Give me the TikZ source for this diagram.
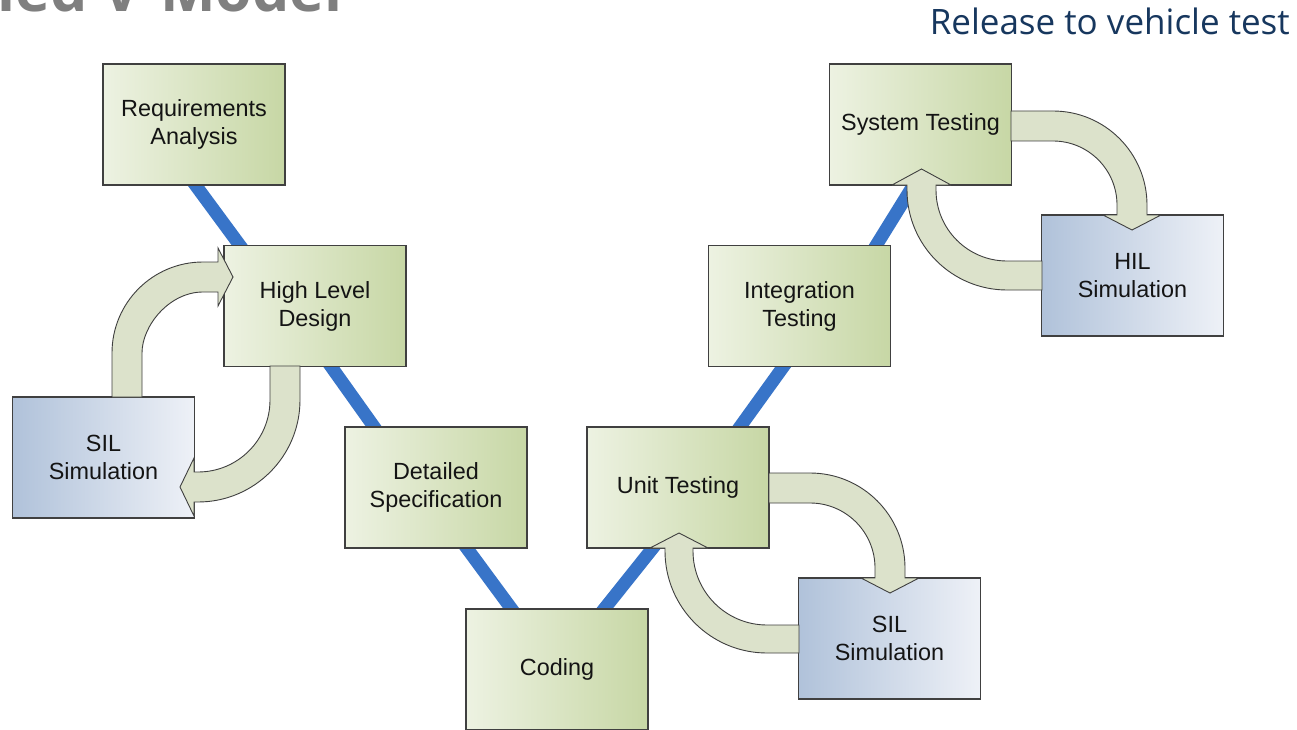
\documentclass[tikz,border=0pt]{standalone}
\usepackage{fontspec}
\setmainfont{Liberation Sans}
\newfontfamily\segoefont{Open Sans}
\usetikzlibrary{calc}
\pgfdeclarelayer{background}
\pgfdeclarelayer{canvas}
\pgfsetlayers{canvas,background,main}
\definecolor{boxedge}{HTML}{404040}
\definecolor{gl}{HTML}{EDF2E2}
\definecolor{gr}{HTML}{C7D7A5}
\definecolor{bl}{HTML}{B0C2DA}
\definecolor{br}{HTML}{EEF1F7}
\definecolor{txt}{HTML}{141414}
\definecolor{vblue}{HTML}{3874C8}
\definecolor{arrfill}{HTML}{DCE2CB}
\definecolor{arredge}{HTML}{3F3F3F}
\definecolor{relblue}{HTML}{17375E}
\definecolor{titlegray}{HTML}{7F7F7F}
\newcommand\bxfont{\fontsize{23.4}{28}\selectfont}
\tikzset{
  greenbox/.style={draw=boxedge, line width=1.2pt, left color=gl, right color=gr,
    minimum width=182pt, minimum height=121pt, inner sep=0pt, align=center,
    font=\bxfont, text=txt},
  bluebox/.style={greenbox, left color=bl, right color=br},
  vline/.style={line width=13pt, draw=vblue, shorten <=-7pt, shorten >=-7pt},
  blockarrow/.style={draw=arredge, line width=0.9pt, fill=arrfill, line join=miter}
}
\begin{document}
\begin{tikzpicture}[x=1pt,y=-1pt]
\useasboundingbox (0,0) rectangle (1297,730);
\begin{pgfonlayer}{canvas}
\fill[white] (0,0) rectangle (1297,730);
\end{pgfonlayer}

% title and label
\node[anchor=base west, inner sep=0pt, font=\segoefont\bfseries\fontsize{59}{62}\selectfont, text=titlegray] (title) at (-3,12) {ied V-Model};
\node[anchor=base east, inner sep=0pt, font=\segoefont\fontsize{35}{40}\selectfont, text=relblue] (rel) at (1290,35) {Release to vehicle test};

% boxes
\node[greenbox] (req) at (194,124.5) {Requirements\\Analysis};
\node[greenbox] (hld) at (315,306) {High Level\\Design};
\node[bluebox]  (sill) at (103.5,457.5) {SIL\\Simulation};
\node[greenbox] (ds) at (436,487.5) {Detailed\\Specification};
\node[greenbox] (cod) at (557,669.5) {Coding};
\node[greenbox] (ut) at (678,487.5) {Unit Testing};
\node[bluebox]  (silr) at (889.5,638.5) {SIL\\Simulation};
\node[greenbox] (it) at (799.5,306) {Integration\\Testing};
\node[greenbox] (st) at (920.5,124.5) {System Testing};
\node[bluebox]  (hil) at (1132.5,275.5) {HIL\\Simulation};

% V lines behind boxes
\begin{pgfonlayer}{background}
\draw[vline] ($(req.south west)!0.51!(req.south east)$) -- ($(hld.north west)!0.088!(hld.north east)$);
\draw[vline] ($(hld.south west)!0.59!(hld.south east)$) -- ($(ds.north west)!0.16!(ds.north east)$);
\draw[vline] ($(ds.south west)!0.67!(ds.south east)$) -- ($(cod.north west)!0.25!(cod.north east)$);
\draw[vline] ($(cod.north west)!0.76!(cod.north east)$) -- ($(ut.south west)!0.36!(ut.south east)$);
\draw[vline] ($(ut.north west)!0.84!(ut.north east)$) -- ($(it.south west)!0.41!(it.south east)$);
\draw[vline] ($(it.north west)!0.92!(it.north east)$) -- ($(st.south west)!0.46!(st.south east)$);
\end{pgfonlayer}

% block arrows: left pair
\draw[blockarrow] (112,397) -- (112,353)
  .. controls (112,302.7) and (152.7,262) .. (203,262) -- (218,262) -- (218,248)
  -- (233,277) -- (218,306) -- (218,292) -- (203,292)
  .. controls (169.3,292) and (142,325.7) .. (142,353) -- (142,397) -- cycle;
\draw[blockarrow] (270,366) -- (300,366) -- (300,400)
  .. controls (300,456.3) and (254.3,502) .. (198,502) -- (194,502) -- (194,516)
  -- (180,487) -- (194,458) -- (194,472) -- (198,472)
  .. controls (237.8,472) and (270,439.8) .. (270,400) -- cycle;

% bottom right pair
\draw[blockarrow] (769,473) -- (810,473)
  .. controls (862.5,473) and (905,515.5) .. (905,568) -- (905,578) -- (919,578)
  -- (890,593) -- (861,578) -- (875,578) -- (875,568)
  .. controls (875,532.1) and (845.9,503) .. (810,503) -- (769,503) -- cycle;
\draw[blockarrow] (799,625) -- (767,625)
  .. controls (726.1,625) and (693,591.9) .. (693,551) -- (693,548) -- (708,548)
  -- (679,533) -- (650,548) -- (665,548) -- (665,551)
  .. controls (665,607.3) and (710.7,653) .. (767,653) -- (799,653) -- cycle;

% top right pair
\draw[blockarrow] (1011,111) -- (1053,111)
  .. controls (1104.9,111) and (1147,153.1) .. (1147,205) -- (1147,215) -- (1161,215)
  -- (1132,230) -- (1103,215) -- (1117,215) -- (1117,205)
  .. controls (1117,169.7) and (1088.3,141) .. (1053,141) -- (1011,141) -- cycle;
\draw[blockarrow] (1042,261) -- (1007,261)
  .. controls (967.8,261) and (936,229.2) .. (936,190) -- (936,185) -- (951,185)
  -- (921.5,169) -- (892,185) -- (907,185) -- (907,190)
  .. controls (907,245.2) and (951.8,290) .. (1007,290) -- (1042,290) -- cycle;
\end{tikzpicture}
\end{document}
